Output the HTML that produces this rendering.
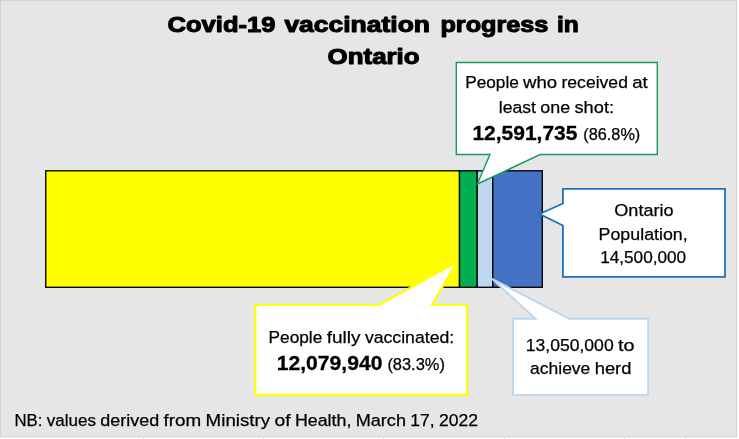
<!DOCTYPE html>
<html lang="en">
<head>
<meta charset="utf-8">
<title>Covid-19 vaccination progress in Ontario</title>
<style>
html,body{margin:0;padding:0;background:#ffffff;}
body{width:739px;height:439px;overflow:hidden;}
svg{display:block;position:absolute;left:0;top:0;}
text{font-family:"Liberation Sans","DejaVu Sans",sans-serif;fill:#000;}
.t{font-weight:bold;font-size:22.8px;stroke:#000;stroke-width:1.1px;stroke-linejoin:round;}
.r{font-size:17.4px;stroke:#000;stroke-width:0.25px;}
.b{font-size:19.8px;font-weight:bold;stroke:#000;stroke-width:0.3px;}
</style>
</head>
<body>
<svg width="739" height="439" viewBox="0 0 739 439">
  <!-- chart area -->
  <rect x="0" y="0" width="739" height="439" fill="#ffffff"/>
  <rect x="0.5" y="0.5" width="736" height="436.5" fill="#e7e6e6" stroke="#d4d4d4" stroke-width="1"/>

  <!-- title -->
  <text class="t" y="32.4"><tspan x="167.6" textLength="107.8" lengthAdjust="spacingAndGlyphs">Covid-19</tspan> <tspan x="284.4" textLength="145.6" lengthAdjust="spacingAndGlyphs">vaccination</tspan> <tspan x="440.4" textLength="108" lengthAdjust="spacingAndGlyphs">progress</tspan> <tspan x="557" textLength="21.8" lengthAdjust="spacingAndGlyphs">in</tspan></text>
  <text class="t" x="327.6" y="64.4" textLength="92" lengthAdjust="spacingAndGlyphs">Ontario</text>

  <!-- stacked bar -->
  <g stroke="#000" stroke-width="1.35">
    <rect x="45.75" y="170.8" width="413.75" height="116.50" fill="#ffff00"/>
    <rect x="459.5" y="170.8" width="17.70" height="116.50" fill="#00b050"/>
    <rect x="477.2" y="170.8" width="15.60" height="116.50" fill="#bdd7ee"/>
    <rect x="492.8" y="170.8" width="49.50" height="116.50" fill="#4472c4"/>
  </g>

  <!-- callout: at least one shot -->
  <path d="M456.3 62.5 H657.3 V154.5 H540.1 L477.4 184 L489.9 154.5 H456.3 Z" fill="#ffffff" stroke="#169c57" stroke-width="1.4"/>
  <text class="r" y="88.4"><tspan x="465.3" textLength="53.5" lengthAdjust="spacingAndGlyphs">People</tspan> <tspan x="523.1" textLength="34.1" lengthAdjust="spacingAndGlyphs">who</tspan> <tspan x="561.5" textLength="66.4" lengthAdjust="spacingAndGlyphs">received</tspan> <tspan x="632.3" textLength="15.5" lengthAdjust="spacingAndGlyphs">at</tspan></text>
  <text class="r" y="112.5"><tspan x="498.8" textLength="37.1" lengthAdjust="spacingAndGlyphs">least</tspan> <tspan x="540.3" textLength="29.9" lengthAdjust="spacingAndGlyphs">one</tspan> <tspan x="574.5" textLength="39.5" lengthAdjust="spacingAndGlyphs">shot:</tspan></text>
  <text class="b" y="139.7"><tspan x="472.4" textLength="105.1" lengthAdjust="spacingAndGlyphs">12,591,735</tspan></text>
  <text class="r" y="139.7"><tspan x="583.3" textLength="57.0" lengthAdjust="spacingAndGlyphs">(86.8%)</tspan></text>

  <!-- callout: Ontario population -->
  <path d="M562.9 188.8 H725 V276.9 H562.9 V225.5 L539.6 214 L562.9 203.5 Z" fill="#ffffff" stroke="#1a72bc" stroke-width="1.8"/>
  <text class="r" y="215.7"><tspan x="614.3" textLength="59.3" lengthAdjust="spacingAndGlyphs">Ontario</tspan></text>
  <text class="r" y="239.5"><tspan x="598.6" textLength="89.1" lengthAdjust="spacingAndGlyphs">Population,</tspan></text>
  <text class="r" y="262.8"><tspan x="600.2" textLength="85.9" lengthAdjust="spacingAndGlyphs">14,500,000</tspan></text>

  <!-- callout: herd -->
  <path d="M513 318.8 H535.5 L492 278.8 L569.3 318.8 H648.1 V394.9 H513 Z" fill="#ffffff" stroke="#bdd7ee" stroke-width="1.9"/>
  <text class="r" y="351.4"><tspan x="525.7" textLength="88.0" lengthAdjust="spacingAndGlyphs">13,050,000</tspan> <tspan x="618.1" textLength="16.5" lengthAdjust="spacingAndGlyphs">to</tspan></text>
  <text class="r" y="374.2"><tspan x="530.1" textLength="60.2" lengthAdjust="spacingAndGlyphs">achieve</tspan> <tspan x="594.7" textLength="36.7" lengthAdjust="spacingAndGlyphs">herd</tspan></text>

  <!-- callout: fully vaccinated -->
  <path d="M255.2 305 H379 L457 262 L432 305 H467.1 V394.9 H255.2 Z" fill="#ffffff" stroke="#ffff00" stroke-width="2.1" stroke-miterlimit="2.5"/>
  <text class="r" y="343"><tspan x="268.5" textLength="53.8" lengthAdjust="spacingAndGlyphs">People</tspan> <tspan x="326.7" textLength="33.8" lengthAdjust="spacingAndGlyphs">fully</tspan> <tspan x="364.9" textLength="89.3" lengthAdjust="spacingAndGlyphs">vaccinated:</tspan></text>
  <text class="b" y="369.7"><tspan x="276.8" textLength="105.6" lengthAdjust="spacingAndGlyphs">12,079,940</tspan></text>
  <text class="r" y="369.7"><tspan x="387.4" textLength="57.5" lengthAdjust="spacingAndGlyphs">(83.3%)</tspan></text>

  <!-- footnote -->
  <text class="r" y="425.8"><tspan x="14.4" textLength="28.0" lengthAdjust="spacingAndGlyphs">NB:</tspan> <tspan x="46.8" textLength="49.2" lengthAdjust="spacingAndGlyphs">values</tspan> <tspan x="100.3" textLength="58.9" lengthAdjust="spacingAndGlyphs">derived</tspan> <tspan x="163.5" textLength="37.7" lengthAdjust="spacingAndGlyphs">from</tspan> <tspan x="205.6" textLength="64.6" lengthAdjust="spacingAndGlyphs">Ministry</tspan> <tspan x="274.6" textLength="16.0" lengthAdjust="spacingAndGlyphs">of</tspan> <tspan x="294.9" textLength="56.5" lengthAdjust="spacingAndGlyphs">Health,</tspan> <tspan x="355.7" textLength="50.3" lengthAdjust="spacingAndGlyphs">March</tspan> <tspan x="410.3" textLength="24.3" lengthAdjust="spacingAndGlyphs">17,</tspan> <tspan x="439.0" textLength="39.0" lengthAdjust="spacingAndGlyphs">2022</tspan></text>
  <!-- faint gridline stubs below the chart -->
  <path d="M143.5 437.6 V439 M263.5 437.6 V439 M383.5 437.6 V439 M504.5 437.6 V439 M624.5 437.6 V439 M685.5 437.6 V439" stroke="#dcdcdc" stroke-width="1" fill="none"/>
</svg>
</body>
</html>
